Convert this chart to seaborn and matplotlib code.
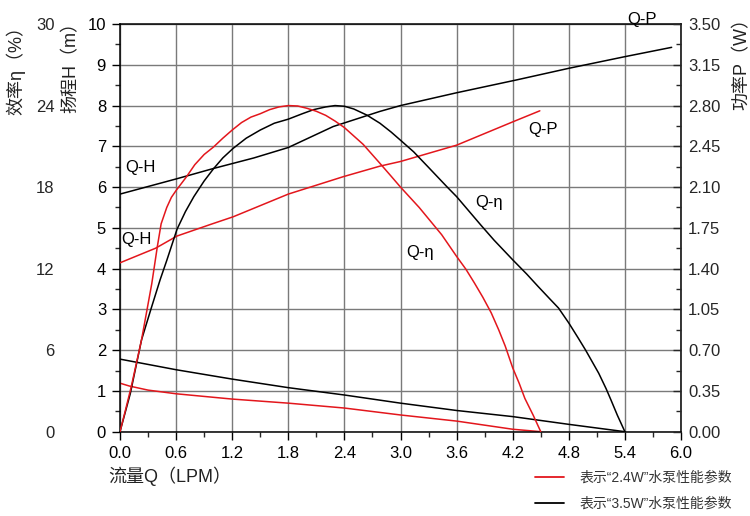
import matplotlib
matplotlib.use("Agg")
import matplotlib.pyplot as plt
import seaborn as sns
import pandas as pd
from matplotlib.lines import Line2D
from matplotlib.ticker import MultipleLocator, FormatStrFormatter

# ---------------- data ----------------
# 3.5W pump (black)
q_h_35 = [0, 0.6, 1.2, 1.8, 2.4, 3.0, 3.6, 4.2, 4.8, 5.4]
h_35 = [1.78, 1.52, 1.29, 1.08, 0.90, 0.70, 0.52, 0.37, 0.18, 0.0]

q_eta_35 = [0, 0.11, 0.23, 0.33, 0.43, 0.5, 0.61, 0.7, 0.79, 0.9, 1.0, 1.1, 1.21,
            1.35, 1.5, 1.65, 1.8, 1.95, 2.07, 2.2, 2.3, 2.4, 2.5, 2.64, 2.78, 2.9,
            3.0, 3.14, 3.3, 3.5, 3.6, 3.86, 4.0, 4.2, 4.35, 4.47, 4.6, 4.69, 4.8,
            4.9, 4.98, 5.05, 5.12, 5.2, 5.25, 5.32, 5.4]
eta_35 = [0, 2.8, 6.75, 9.0, 11.2, 12.6, 14.9, 16.2, 17.3, 18.45, 19.35, 20.15,
          20.85, 21.6, 22.2, 22.7, 23.0, 23.4, 23.7, 23.9, 24.0, 23.95, 23.75,
          23.3, 22.7, 22.05, 21.45, 20.6, 19.45, 18.0, 17.3, 15.2, 14.1, 12.65,
          11.6, 10.7, 9.75, 9.1, 8.0, 6.9, 6.0, 5.15, 4.3, 3.15, 2.35, 1.2, 0]

q_p_35 = [0, 0.6, 1.0, 1.43, 1.8, 2.28, 2.78, 3.0, 3.6, 4.24, 4.8, 5.4, 5.9]
p_35 = [2.04, 2.17, 2.26, 2.35, 2.44, 2.62, 2.75, 2.80, 2.91, 3.02, 3.12, 3.22, 3.30]

# 2.4W pump (red)
q_h_24 = [0, 0.1, 0.3, 0.6, 1.2, 1.8, 2.4, 3.0, 3.6, 4.2, 4.5]
h_24 = [1.19, 1.12, 1.02, 0.93, 0.80, 0.70, 0.58, 0.41, 0.26, 0.06, 0.0]

q_eta_24 = [0, 0.05, 0.12, 0.23, 0.34, 0.40, 0.44, 0.5, 0.55, 0.6, 0.71, 0.8, 0.9,
            1.0, 1.1, 1.2, 1.3, 1.4, 1.5, 1.6, 1.7, 1.8, 1.9, 2.0, 2.1, 2.2, 2.3,
            2.4, 2.6, 2.78, 2.9, 3.0, 3.2, 3.44, 3.6, 3.7, 3.79, 3.88, 3.97, 4.05,
            4.12, 4.2, 4.27, 4.33, 4.42, 4.5]
eta_24 = [0, 1.35, 3.3, 6.75, 10.9, 13.65, 15.3, 16.5, 17.25, 17.75, 18.75, 19.65,
          20.4, 20.95, 21.6, 22.2, 22.75, 23.15, 23.4, 23.7, 23.9, 24.0, 23.97,
          23.8, 23.58, 23.28, 22.86, 22.38, 21.15, 19.75, 18.8, 18.0, 16.5, 14.5,
          12.9, 11.95, 10.95, 9.9, 8.75, 7.5, 6.3, 4.7, 3.55, 2.45, 1.2, 0]

q_p_24 = [0, 0.38, 0.61, 0.97, 1.21, 1.8, 2.39, 2.78, 3.0, 3.6, 4.2, 4.49]
p_24 = [1.45, 1.575, 1.68, 1.78, 1.845, 2.04, 2.19, 2.28, 2.32, 2.46, 2.66, 2.755]

x_ticks = [0.0, 0.6, 1.2, 1.8, 2.4, 3.0, 3.6, 4.2, 4.8, 5.4, 6.0]
h_ticks = [0, 1, 2, 3, 4, 5, 6, 7, 8, 9, 10]
eta_ticks = [0, 6, 12, 18, 24, 30]
p_ticks = [0.00, 0.35, 0.70, 1.05, 1.40, 1.75, 2.10, 2.45, 2.80, 3.15, 3.50]

legend_labels = ["表示“2.4W”水泵性能参数", "表示“3.5W”水泵性能参数"]

RED = "#e3161c"
BLACK = "#000000"

# ---------------- style ----------------
sns.set_style("ticks")
plt.rcParams["font.family"] = ["Liberation Sans", "Noto Sans CJK SC", "DejaVu Sans"]
plt.rcParams["axes.linewidth"] = 1.1
plt.rcParams["lines.solid_joinstyle"] = "round"

fig = plt.figure(figsize=(7.5, 5.16), dpi=100)
ax = fig.add_axes([0.16, 0.1634, 0.748, 0.790])
ax_p = ax.twinx()
ax_eta = ax.twinx()

LW = 1.1


def draw(axis, xs, ys, color):
    df = pd.DataFrame({"Q": xs, "v": ys})
    sns.lineplot(data=df, x="Q", y="v", ax=axis, color=color, sort=False,
                 estimator=None, linewidth=LW, legend=False)


draw(ax, q_h_35, h_35, BLACK)
draw(ax, q_h_24, h_24, RED)
draw(ax_eta, q_eta_35, eta_35, BLACK)
draw(ax_eta, q_eta_24, eta_24, RED)
draw(ax_p, q_p_35, p_35, BLACK)
draw(ax_p, q_p_24, p_24, RED)

# main axis (head)
ax.set_xlim(0, 6.0)
ax.set_ylim(0, 10)
ax.set_xticks(x_ticks)
ax.set_yticks(h_ticks)
ax.xaxis.set_minor_locator(MultipleLocator(0.3))
ax.yaxis.set_minor_locator(MultipleLocator(0.5))
ax.xaxis.set_major_formatter(FormatStrFormatter("%.1f"))
ax.grid(True, which="major", color="#7a7a7a", linewidth=1.0)
ax.set_axisbelow(True)
ax.tick_params(axis="both", which="major", direction="out", length=6, width=1.0,
               labelsize=12, pad=4, colors="black")
ax.tick_params(axis="both", which="minor", direction="out", length=3.5, width=1.0)
ax.set_xlabel("")
ax.set_ylabel("")
for s in ax.spines.values():
    s.set_color("black")

# efficiency axis (labels only, far left)
ax_eta.set_ylim(0, 30)
ax_eta.set_yticks(eta_ticks)
ax_eta.yaxis.set_ticks_position("left")
ax_eta.tick_params(axis="y", length=0, pad=47, labelsize=12)
for s in ax_eta.spines.values():
    s.set_visible(False)
ax_eta.set_ylabel("")
ax_eta.set_xlabel("")

# power axis (right)
ax_p.set_ylim(0, 3.5)
ax_p.set_yticks(p_ticks)
ax_p.yaxis.set_minor_locator(MultipleLocator(0.175))
ax_p.yaxis.set_major_formatter(FormatStrFormatter("%.2f"))
ax_p.tick_params(axis="y", which="major", direction="in", length=6, width=1.0,
                 labelsize=12, pad=5)
ax_p.tick_params(axis="y", which="minor", direction="in", length=3.5, width=1.0)
ax_p.set_ylabel("")
ax_p.set_xlabel("")
for s in ax_p.spines.values():
    s.set_visible(False)

# curve labels
lab_kw = dict(fontsize=12, color="black", ha="left", va="center", clip_on=False)
ax.text(0.06, 6.48, "Q-H", **lab_kw)
ax.text(0.01, 4.71, "Q-H", **lab_kw)
ax.text(5.43, 10.1, "Q-P", **lab_kw)
ax.text(4.37, 7.41, "Q-P", **lab_kw)
ax.text(3.80, 5.61, "Q-η", **lab_kw)
ax.text(3.06, 4.40, "Q-η", **lab_kw)

# axis titles
TITLE_FS = 13
fig.text(108 / 750, 1 - 476 / 516, "流量Q（LPM）", ha="left", va="center",
         fontsize=TITLE_FS, color="#222222")
fig.text(71 / 750, 1 - 63 / 516, "扬程H（m）", ha="center", va="center",
         rotation=90, fontsize=TITLE_FS, color="#222222")
fig.text(16 / 750, 1 - 66 / 516, "效率η（%）", ha="center", va="center",
         rotation=90, fontsize=TITLE_FS, color="#222222")
fig.text(742 / 750, 1 - 60 / 516, "功率P（W）", ha="center", va="center",
         rotation=90, fontsize=TITLE_FS, color="#222222")

# legend
handles = [Line2D([], [], color=RED, linewidth=1.3),
           Line2D([], [], color=BLACK, linewidth=1.3)]
leg = fig.legend(handles, legend_labels, loc="upper left",
                 bbox_to_anchor=(535 / 750, 1 - 471 / 516), frameon=False,
                 fontsize=10, handlelength=2.1, handletextpad=1.1,
                 labelspacing=0.85, borderpad=0, borderaxespad=0)
for t in leg.get_texts():
    t.set_color("#333333")

fig.savefig("out.png", dpi=100)
